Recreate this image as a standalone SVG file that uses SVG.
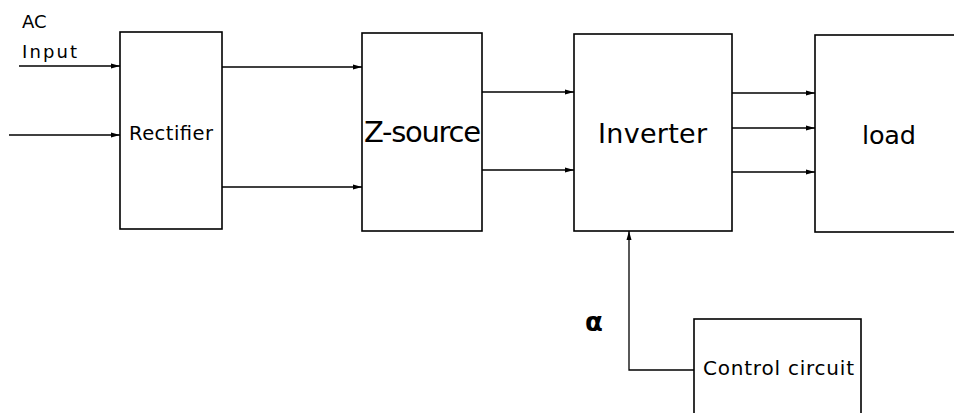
<svg xmlns="http://www.w3.org/2000/svg" width="954" height="413" viewBox="0 0 954 413">
<defs>
<marker id="ah" markerWidth="9" markerHeight="6" refX="9" refY="3" orient="auto" markerUnits="userSpaceOnUse">
<path d="M0,0.5 L9,3 L0,5.5 Z" fill="#000"/>
</marker>
<style>
.box{fill:#fff;stroke:#000;stroke-width:1.6}
.ln{fill:none;stroke:#000;stroke-width:1.3}
.t{font-family:"DejaVu Sans","Verdana",sans-serif;fill:#000}
</style>
</defs>
<rect width="954" height="413" fill="#fff"/>
<g id="connectors">
<line class="ln" x1="19" y1="66" x2="120" y2="66" marker-end="url(#ah)"/>
<line class="ln" x1="9" y1="135" x2="120" y2="135" marker-end="url(#ah)"/>
<line class="ln" x1="222" y1="67" x2="362" y2="67" marker-end="url(#ah)"/>
<line class="ln" x1="222" y1="187" x2="362" y2="187" marker-end="url(#ah)"/>
<line class="ln" x1="482" y1="92" x2="574" y2="92" marker-end="url(#ah)"/>
<line class="ln" x1="482" y1="170" x2="574" y2="170" marker-end="url(#ah)"/>
<line class="ln" x1="732" y1="93" x2="815" y2="93" marker-end="url(#ah)"/>
<line class="ln" x1="732" y1="128" x2="815" y2="128" marker-end="url(#ah)"/>
<line class="ln" x1="732" y1="172" x2="815" y2="172" marker-end="url(#ah)"/>
<polyline class="ln" points="694,370 629,370 629,231" marker-end="url(#ah)"/>
</g>
<g id="ac-input">
<text class="t" x="22" y="28" font-size="18">AC</text>
<text class="t" x="22" y="58" font-size="18" textLength="55">Input</text>
</g>
<g id="rectifier">
<rect class="box" x="120" y="32" width="102" height="197"/>
<text class="t" x="129" y="140" font-size="19.5" textLength="84">Rectifier</text>
</g>
<g id="zsource">
<rect class="box" x="362" y="33" width="120" height="198"/>
<text class="t" x="364" y="142" font-size="29" textLength="117">Z-source</text>
</g>
<g id="inverter">
<rect class="box" x="574" y="34" width="158" height="197"/>
<text class="t" x="598" y="143" font-size="27" textLength="109">Inverter</text>
</g>
<g id="load">
<rect class="box" x="815" y="35" width="160" height="197"/>
<text class="t" x="862" y="144" font-size="25.5" textLength="54">load</text>
</g>
<g id="control">
<rect class="box" x="694" y="319" width="167" height="110"/>
<text class="t" x="703" y="375" font-size="20" textLength="151">Control circuit</text>
</g>
<g id="alpha">
<text class="t" x="585" y="331" font-size="26" font-weight="bold">α</text>
</g>
</svg>
